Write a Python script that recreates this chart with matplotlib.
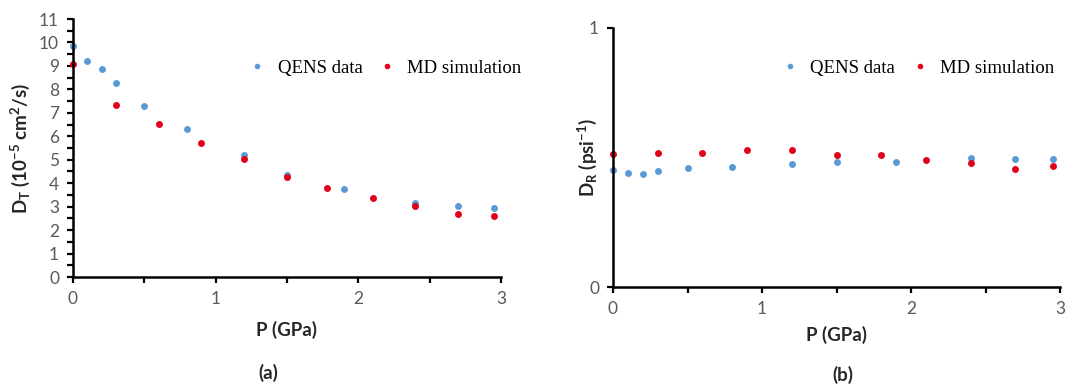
import matplotlib
matplotlib.use("Agg")
import matplotlib.pyplot as plt
from matplotlib.ticker import MultipleLocator, FixedLocator

# ---- data ----
qens_p_a = [0.0, 0.1, 0.2, 0.3, 0.5, 0.8, 1.2, 1.5, 1.9, 2.4, 2.7, 2.95]
qens_dt = [9.86, 9.22, 8.86, 8.26, 7.29, 6.33, 5.22, 4.37, 3.75, 3.17, 3.03, 2.93]
md_p_a = [0.0, 0.3, 0.6, 0.9, 1.2, 1.5, 1.78, 2.1, 2.4, 2.7, 2.95]
md_dt = [9.08, 7.32, 6.52, 5.70, 5.03, 4.27, 3.78, 3.38, 3.03, 2.70, 2.60]

qens_p_b = [0.0, 0.1, 0.2, 0.3, 0.5, 0.8, 1.2, 1.5, 1.9, 2.4, 2.7, 2.95]
qens_dr = [0.450, 0.440, 0.438, 0.449, 0.459, 0.462, 0.476, 0.484, 0.481, 0.498, 0.494, 0.494]
md_p_b = [0.0, 0.3, 0.6, 0.9, 1.2, 1.5, 1.8, 2.1, 2.4, 2.7, 2.95]
md_dr = [0.512, 0.516, 0.516, 0.528, 0.528, 0.511, 0.510, 0.492, 0.480, 0.454, 0.467]

series_labels = ["QENS data", "MD simulation"]
panel_tags = ["(a)", "(b)"]
x_label = "P (GPa)"
y_label_a = r"D$_T$ (10$^{-5}$ cm$^2$/s)"
y_label_b = r"D$_R$ (psi$^{-1}$)"

plt.rcParams["mathtext.fontset"] = "custom"
plt.rcParams["mathtext.rm"] = "Lato:bold"
plt.rcParams["mathtext.it"] = "Lato:bold"
plt.rcParams["mathtext.bf"] = "Lato:bold"
plt.rcParams["mathtext.default"] = "rm"

BLUE = "#5b9bd5"
RED = "#e3001b"
TICKC = "#595959"
LABC = "#262626"
SANS = ["Lato", "DejaVu Sans"]
SERIF = ["Liberation Serif", "DejaVu Serif"]

W, H = 1070, 386
fig = plt.figure(figsize=(W / 100, H / 100), dpi=100)


def axes_px(l, t, r, b):
    return fig.add_axes([l / W, 1 - b / H, (r - l) / W, (b - t) / H])


ax_a = axes_px(73, 19, 501, 277)
ax_b = axes_px(613, 28, 1060, 287)


def style(ax):
    for s in ["top", "right"]:
        ax.spines[s].set_visible(False)
    for s in ["left", "bottom"]:
        ax.spines[s].set_linewidth(1.8)
        ax.spines[s].set_color("black")
    ax.tick_params(which="both", direction="out", length=4, width=1.6,
                   color="black", labelcolor=TICKC, labelsize=12.5, pad=6)
    for lab in ax.get_xticklabels() + ax.get_yticklabels():
        lab.set_family(SANS)
    ax.set_xlim(0, 3)
    ax.xaxis.set_major_locator(MultipleLocator(1))
    ax.xaxis.set_minor_locator(MultipleLocator(0.5))


# panel (a)
ax_a.plot(qens_p_a, qens_dt, "o", color=BLUE, ms=5, mec="none", label=series_labels[0], clip_on=False)
ax_a.plot(md_p_a, md_dt, "o", color=RED, ms=5, mec="none", label=series_labels[1], clip_on=False)
ax_a.set_ylim(0, 11)
ax_a.yaxis.set_major_locator(MultipleLocator(1))
ax_a.yaxis.set_minor_locator(MultipleLocator(0.5))
style(ax_a)

# panel (b)
ax_b.plot(qens_p_b, qens_dr, "o", color=BLUE, ms=5, mec="none", label=series_labels[0], clip_on=False)
ax_b.plot(md_p_b, md_dr, "o", color=RED, ms=5, mec="none", label=series_labels[1], clip_on=False)
ax_b.set_ylim(0, 1)
ax_b.yaxis.set_major_locator(FixedLocator([0, 1]))
style(ax_b)

for ax, ylab, legx, xl_y, yl_x in [(ax_a, y_label_a, 531, -0.205, -0.124),
                                    (ax_b, y_label_b, 1064, -0.185, -0.058)]:
    ax.set_xlabel(x_label, fontsize=13.5, fontweight="bold", family=SANS, color=LABC, va="center")
    ax.set_ylabel(ylab, fontsize=13.5, fontweight="bold", family=SANS, color=LABC, va="center")
    ax.xaxis.set_label_coords(0.5, xl_y)
    ax.yaxis.set_label_coords(yl_x, 0.5)
    ax.legend(loc="center right", bbox_to_anchor=(legx / W, 1 - 68 / H),
              bbox_transform=fig.transFigure, ncol=2, frameon=False,
              prop={"family": SERIF, "size": 13.5}, markerscale=0.8,
              handlelength=0.8, handletextpad=0.7, columnspacing=0.9, borderpad=0)

fig.text(268 / W, 1 - 373 / H, panel_tags[0], ha="center", va="center",
         fontsize=13.5, fontweight="bold", family=SANS, color=LABC)
fig.text(843 / W, 1 - 375 / H, panel_tags[1], ha="center", va="center",
         fontsize=13.5, fontweight="bold", family=SANS, color=LABC)

fig.savefig("out.png", dpi=100)
